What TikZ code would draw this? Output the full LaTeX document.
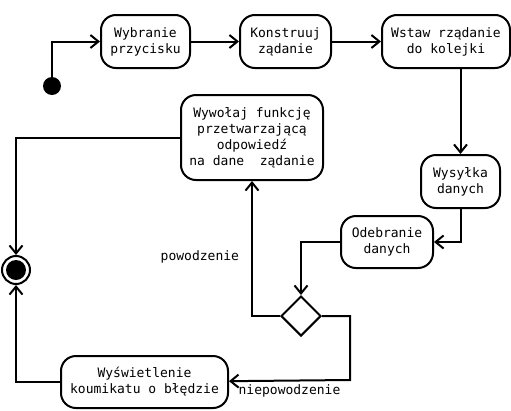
\documentclass[tikz,border=0pt]{standalone}
\usepackage{fontspec}
\setmainfont{DejaVu Sans Mono}
\usetikzlibrary{arrows.meta}
\usetikzlibrary{shapes.geometric}
\tikzstyle{activity}=[draw,line width=2pt,rounded corners=15pt,align=center,inner sep=0pt,font=\fontsize{13}{16}\selectfont]
\tikzstyle{decision}=[draw,line width=2pt,diamond,aspect=1,inner sep=0pt,minimum width=40pt,minimum height=40pt]
\tikzstyle{flow}=[-{Straight Barb[length=8pt,width=13pt,line width=2pt]},line width=2pt]
\tikzstyle{guard}=[font=\fontsize{13}{16}\selectfont,inner sep=2pt]
\newcommand{\activity}[5]{
  \node[activity,minimum width=#3pt,minimum height=#4pt] (#1) at #2 {#5};
}

\begin{document}
\begin{tikzpicture}[x=1pt,y=-1pt]
  \useasboundingbox (0,0) rectangle (511,410);
  % start and end
  \node[circle,fill,minimum size=18pt,inner sep=0pt] (start) at (52,86) {};
  \node[circle,draw,line width=2pt,minimum size=28pt,inner sep=0pt] (final) at (16,270) {};
  \fill (final) circle (10pt);
  % activities
  \activity{wybranie}{(145.5,41.5)}{89}{53}{Wybranie\\przycisku}
  \activity{konstruuj}{(285.5,41.5)}{91}{53}{Konstruuj\\ządanie}
  \activity{wstaw}{(446,41.5)}{128}{53}{Wstaw rządanie\\do kolejki}
  \activity{wysylka}{(460.5,181.5)}{79}{53}{Wysyłka\\danych}
  \activity{odebranie}{(387,242)}{92}{52}{Odebranie\\danych}
  \activity{wywolaj}{(252,137.5)}{142}{85}{Wywołaj funkcję\\przetwarzającą\\odpowiedź\\na dane~~ządanie}
  \activity{wyswietlenie}{(144.5,382)}{167}{52}{Wyświetlenie\\koumikatu o błędzie}
  \node[decision] (choice) at (301,316) {};
  \coordinate (bend) at (350,380);
  % transitions
  \draw[flow] (start) |- (wybranie);
  \draw[flow] (wybranie) -- (konstruuj);
  \draw[flow] (konstruuj) -- (wstaw);
  \draw[flow] (wstaw.south -| wysylka) -- (wysylka);
  \draw[flow] (wysylka) |- (odebranie);
  \draw[flow] (odebranie) -| (choice);
  \draw[flow] (choice) -| (wywolaj) node[guard,pos=0.72,left=10pt] {powodzenie}; %ok
  \draw[flow] (choice) -| (bend) -- (wyswietlenie) node[guard,midway,below=1pt] {niepowodzenie}; %blad
  \draw[flow] (wywolaj) -| (final);
  \draw[flow] (wyswietlenie) -| (final);
\end{tikzpicture}
\end{document}
